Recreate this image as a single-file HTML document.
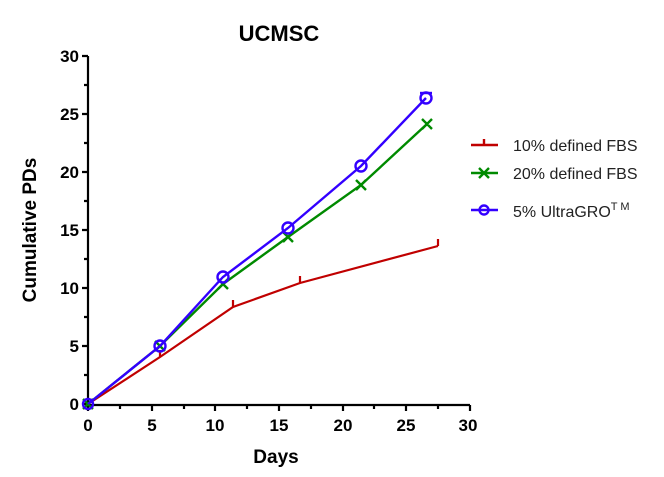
<!DOCTYPE html>
<html><head><meta charset="utf-8"><style>html,body{margin:0;padding:0;background:#fff}svg{display:block}</style></head>
<body>
<svg width="664" height="477" viewBox="0 0 664 477" xmlns="http://www.w3.org/2000/svg" font-family="Liberation Sans, sans-serif">
<rect width="664" height="477" fill="#fff"/>
<text x="279" y="41" text-anchor="middle" font-size="22" font-weight="bold">UCMSC</text>
<g stroke="#000" stroke-width="2.2" fill="none">
<path d="M88,56 V405 H470"/>
<path d="M82,56H88M82,114H88M82,172H88M82,230H88M82,288H88M82,346H88M82,404H88"/>
<path d="M84,85H88M84,143H88M84,201H88M84,259H88M84,317H88M84,375H88"/>
<path d="M88,405V411M152,405V411M215,405V411M279,405V411M343,405V411M406,405V411M470,405V411"/>
<path d="M120,405V409M184,405V409M247,405V409M311,405V409M374,405V409M438,405V409"/>
</g>
<g font-size="17" font-weight="bold" text-anchor="end">
<text x="79" y="62">30</text><text x="79" y="120">25</text><text x="79" y="178">20</text><text x="79" y="236">15</text><text x="79" y="294">10</text><text x="79" y="352">5</text><text x="79" y="410">0</text>
</g>
<g font-size="17" font-weight="bold" text-anchor="middle">
<text x="88" y="431">0</text><text x="152" y="431">5</text><text x="215" y="431">10</text><text x="279" y="431">15</text><text x="343" y="431">20</text><text x="406" y="431">25</text><text x="468" y="431">30</text>
</g>
<text x="276" y="463" text-anchor="middle" font-size="19" font-weight="bold">Days</text>
<text transform="translate(36,230) rotate(-90)" text-anchor="middle" font-size="19" font-weight="bold">Cumulative PDs</text>
<g stroke="#c00000" stroke-width="2.2" fill="none">
<polyline points="88,404 160,357 233,307 300,283 438,246"/>
<path d="M160,357V350M233,307V300M300,283V276M438,246V239"/>
</g>
<g stroke="#008a00" stroke-width="2.4" fill="none">
<polyline points="88,404 160,346 223,284 288,237 361,185 427,124"/>
<path d="M83,399l10,10M93,399l-10,10M155,341l10,10M165,341l-10,10M218,279l10,10M228,279l-10,10M283,232l10,10M293,232l-10,10M356,180l10,10M366,180l-10,10M422,119l10,10M432,119l-10,10"/>
</g>
<g stroke="#3300ff" stroke-width="2.4" fill="none">
<polyline points="88,404 160,346 223,277 288,228 361,166 426,98"/>
<circle cx="88" cy="404" r="5"/><circle cx="160" cy="346" r="5.5"/><circle cx="223" cy="277" r="5.5"/><circle cx="288" cy="228" r="5.5"/><circle cx="361" cy="166" r="5.5"/><circle cx="426" cy="98" r="5.5"/>
<path d="M420,93H432"/>
</g>
<g stroke-width="2.4" fill="none">
<path d="M471,145H498M484,145V139" stroke="#c00000"/>
<path d="M471,173H498M479,168l10,10M489,168l-10,10" stroke="#008a00"/>
<path d="M471,210H498" stroke="#3300ff"/><circle cx="484" cy="210" r="4.5" stroke="#3300ff"/>
</g>
<g font-size="16" fill="#222">
<text x="513" y="151">10% defined FBS</text>
<text x="513" y="179">20% defined FBS</text>
<text x="513" y="217">5% UltraGRO<tspan font-size="11" dy="-7">T M</tspan></text>
</g>
</svg>
</body></html>
